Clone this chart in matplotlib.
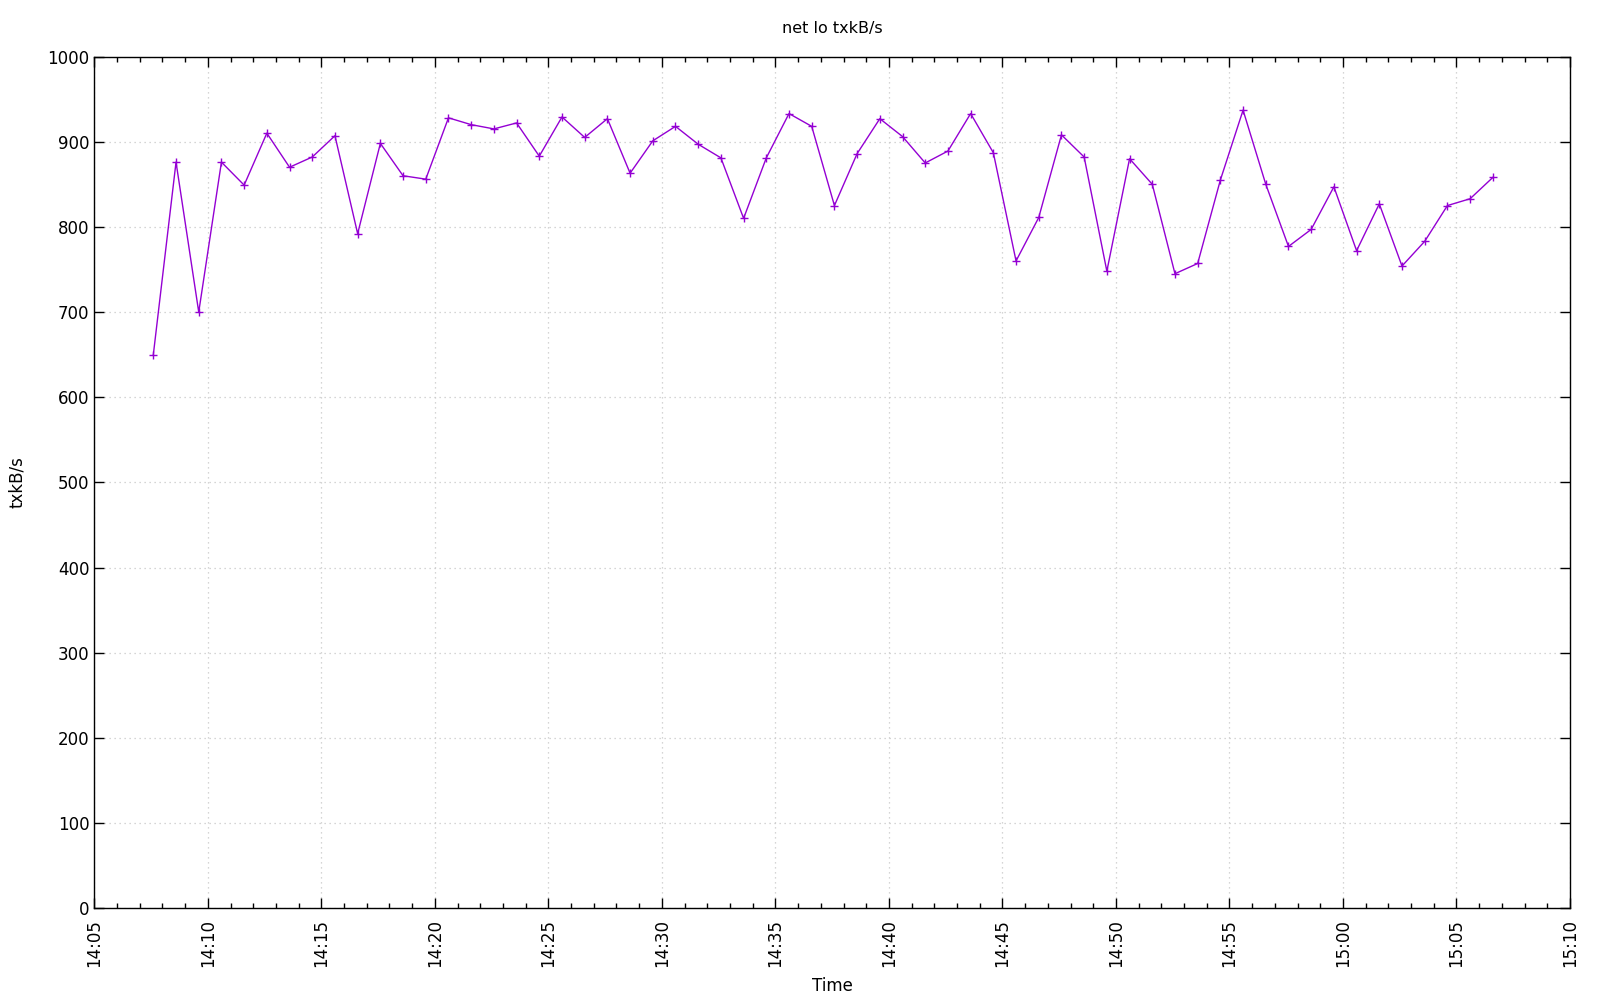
import matplotlib
matplotlib.use("Agg")
import matplotlib.pyplot as plt
import matplotlib.dates as mdates
import numpy as np
import pandas as pd

start_time = "2024-01-01 14:07:36"
values = [650, 876, 700, 876, 849, 910, 870, 882, 907, 792,
          898, 860, 856, 928, 920, 915, 922, 883, 929, 905,
          927, 863, 901, 918, 897, 881, 810, 881, 933, 918,
          825, 886, 927, 906, 875, 889, 933, 887, 760, 811,
          908, 882, 748, 880, 850, 745, 757, 855, 937, 850,
          777, 797, 847, 772, 827, 754, 783, 825, 833, 858]
times = pd.date_range(start_time, periods=len(values), freq="1min")

title = "net lo txkB/s"
xlabel = "Time"
ylabel = "txkB/s"
xmin, xmax = "2024-01-01 14:05", "2024-01-01 15:10"

plt.rcParams['font.family'] = ['DejaVu Sans']
fig = plt.figure(figsize=(16, 10), dpi=100)
ax = fig.add_axes([94.3/1600, 1 - 908.3/1000, (1570-94.3)/1600, (908.3-56.5)/1000])

ax.plot(times, values, color="#9400D3", lw=1.0, marker="+", ms=5.5, mew=1.0)

ax.set_xlim(pd.Timestamp(xmin), pd.Timestamp(xmax))
ax.set_ylim(0, 1000)
ax.yaxis.set_major_locator(matplotlib.ticker.MultipleLocator(100))
ax.xaxis.set_major_locator(mdates.MinuteLocator(byminute=range(0, 60, 5)))
ax.xaxis.set_minor_locator(mdates.MinuteLocator())
ax.xaxis.set_major_formatter(mdates.DateFormatter("%H:%M"))

ax.tick_params(axis="both", which="both", direction="in", top=True, right=True, labelsize=12)
ax.tick_params(which="major", length=7, width=1)
ax.tick_params(which="minor", length=3.5, width=1)
ax.tick_params(axis="x", which="major", pad=8)
for lbl in ax.get_xticklabels():
    lbl.set_rotation(90)

ax.grid(True, which="major", color="#c8c8c8", linestyle=(0, (1, 3)), lw=0.9)
for s in ax.spines.values():
    s.set_linewidth(1.0)

ax.set_title(title, fontsize=11.5, y=1.033, va="center", pad=0)
ax.set_xlabel(xlabel, fontsize=12)
ax.set_ylabel(ylabel, fontsize=12)
ax.xaxis.set_label_coords(0.5, -0.0912)
ax.yaxis.set_label_coords(-0.0524, 0.5)
ax.xaxis.label.set_va("center")
ax.yaxis.label.set_va("center")

fig.savefig("out.png", dpi=100)
